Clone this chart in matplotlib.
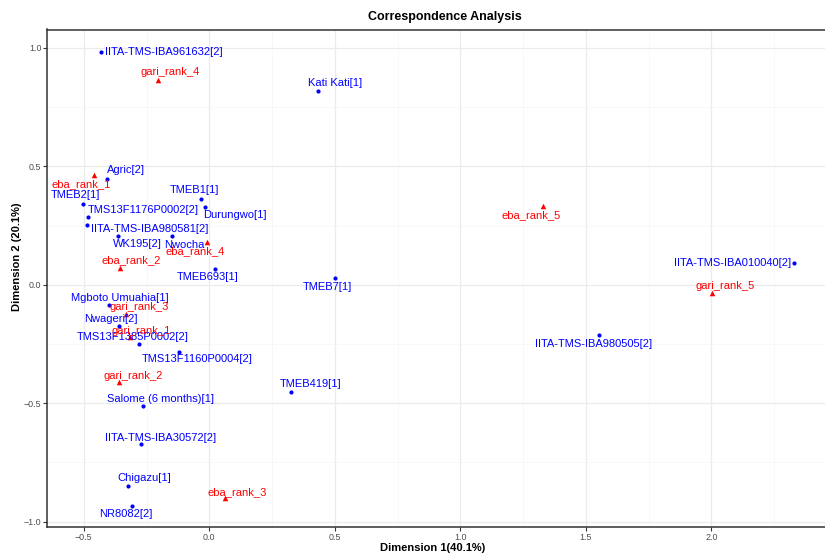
import matplotlib
matplotlib.use("Agg")
import matplotlib.pyplot as plt
from matplotlib.ticker import MultipleLocator

plt.rcParams['font.family'] = ['Liberation Sans', 'DejaVu Sans']

# ---- data ----
row_names = ["IITA-TMS-IBA961632[2]", "Kati Kati[1]", "Agric[2]", "TMEB2[1]",
             "TMS13F1176P0002[2]", "IITA-TMS-IBA980581[2]", "WK195[2]", "TMEB1[1]",
             "Durungwo[1]", "Nwocha", "TMEB693[1]", "TMEB7[1]",
             "IITA-TMS-IBA010040[2]", "IITA-TMS-IBA980505[2]", "Mgboto Umuahia[1]",
             "Nwageri[2]", "TMS13F1385P0002[2]", "TMS13F1160P0004[2]", "TMEB419[1]",
             "Salome (6 months)[1]", "IITA-TMS-IBA30572[2]", "Chigazu[1]", "NR8082[2]"]
row_dim1 = [-0.431, 0.434, -0.407, -0.504, -0.483, -0.488, -0.365, -0.035,
            -0.018, -0.149, 0.022, 0.501, 2.331, 1.552, -0.398, -0.359,
            -0.281, -0.121, 0.325, -0.263, -0.271, -0.324, -0.309]
row_dim2 = [0.985, 0.818, 0.446, 0.340, 0.287, 0.253, 0.205, 0.364,
            0.330, 0.205, 0.068, 0.030, 0.090, -0.213, -0.086, -0.175,
            -0.252, -0.283, -0.452, -0.513, -0.673, -0.849, -0.935]

col_names = ["eba_rank_1", "eba_rank_2", "eba_rank_3", "eba_rank_4", "eba_rank_5",
             "gari_rank_1", "gari_rank_2", "gari_rank_3", "gari_rank_4", "gari_rank_5"]
col_dim1 = [-0.460, -0.354, 0.064, -0.008, 1.331, -0.316, -0.358, -0.331, -0.206, 2.003]
col_dim2 = [0.463, 0.072, -0.902, 0.179, 0.334, -0.222, -0.412, -0.123, 0.866, -0.035]

title = "Correspondence Analysis"
xlabel = "Dimension 1(40.1%)"
ylabel = "Dimension 2 (20.1%)"

# ---- label placement (pixel offsets, layout only) ----
row_offsets = [(63, 0), (17, 8), (18.6, 8.8), (-7.5, 9.7), (55, 6.6), (63.3, -4.5),
               (19.3, -7.8), (-5.8, 8.5), (29.6, -8.3), (12.6, -8.3), (-6.8, -8.5),
               (-7.3, -9.0), (-62, 0), (-5.3, -8.5), (10.8, 7.6), (-8, 7.3),
               (-6.5, 7.8), (18.3, -7.6), (19.3, 7.8), (17.3, 7.3), (19, 6.6),
               (16.6, 7.8), (-6.3, -7.6)]
col_offsets = [(-12.3, -9.2), (10.8, 7.3), (11.5, 5.9), (-12.6, -8.5), (-12, -9),
               (11.3, 6.6), (13.3, 6.4), (13, 6.6), (13, 7.3), (12.6, 6.6)]

W, H, DPI = 825, 554, 100
fig = plt.figure(figsize=(W / DPI, H / DPI), dpi=DPI)
left_px, right_px, top_px, bot_px = 47.3, 830.5, 29.5, 526.7
ax = fig.add_axes([left_px / W, 1 - bot_px / H, (right_px - left_px) / W, (bot_px - top_px) / H])

ax.set_xlim(-0.6455, 2.475)
ax.set_ylim(-1.0215, 1.078)

ax.xaxis.set_major_locator(MultipleLocator(0.5))
ax.xaxis.set_minor_locator(MultipleLocator(0.25))
ax.yaxis.set_major_locator(MultipleLocator(0.5))
ax.yaxis.set_minor_locator(MultipleLocator(0.25))
ax.grid(which='major', color='#EBEBEB', linewidth=0.9, zorder=0)
ax.grid(which='minor', color='#F5F5F5', linewidth=0.5, zorder=0)
ax.set_axisbelow(True)

for s in ax.spines.values():
    s.set_color('#333333')
    s.set_linewidth(1.1)

ax.tick_params(which='major', length=2.6, width=0.8, color='#333333',
               labelsize=6.4, labelcolor='#4D4D4D', pad=1.6)
ax.tick_params(which='minor', length=0)
ax.xaxis.set_major_formatter(plt.FuncFormatter(lambda v, p: f"{v:.1f}".replace("-", "\u2212") if abs(v) > 1e-9 else "0.0"))
ax.yaxis.set_major_formatter(plt.FuncFormatter(lambda v, p: f"{v:.1f}".replace("-", "\u2212") if abs(v) > 1e-9 else "0.0"))

ax.scatter(row_dim1, row_dim2, s=9, marker='o', color='#0000FF', linewidths=0, zorder=3)
ax.scatter(col_dim1, col_dim2, s=16, marker='^', color='#FF0000', linewidths=0, zorder=3)

k = 72 / DPI
for name, x, y, (dx, dy) in zip(row_names, row_dim1, row_dim2, row_offsets):
    ax.annotate(name, (x, y), xytext=(dx * k, dy * k), textcoords='offset points',
                ha='center', va='center', color='#0000FF', fontsize=8, zorder=4)
for name, x, y, (dx, dy) in zip(col_names, col_dim1, col_dim2, col_offsets):
    ax.annotate(name, (x, y), xytext=(dx * k, dy * k), textcoords='offset points',
                ha='center', va='center', color='#FF0000', fontsize=8, zorder=4)

fig.text(445 / W, 1 - 16.7 / H, title, ha='center', va='center', fontsize=9, fontweight='bold')
fig.text(432.5 / W, 1 - 548 / H, xlabel, ha='center', va='center', fontsize=8, fontweight='bold')
fig.text(17 / W, 1 - 257 / H, ylabel, ha='center', va='center', fontsize=8, fontweight='bold', rotation=90)

fig.savefig("out.png", dpi=DPI)
